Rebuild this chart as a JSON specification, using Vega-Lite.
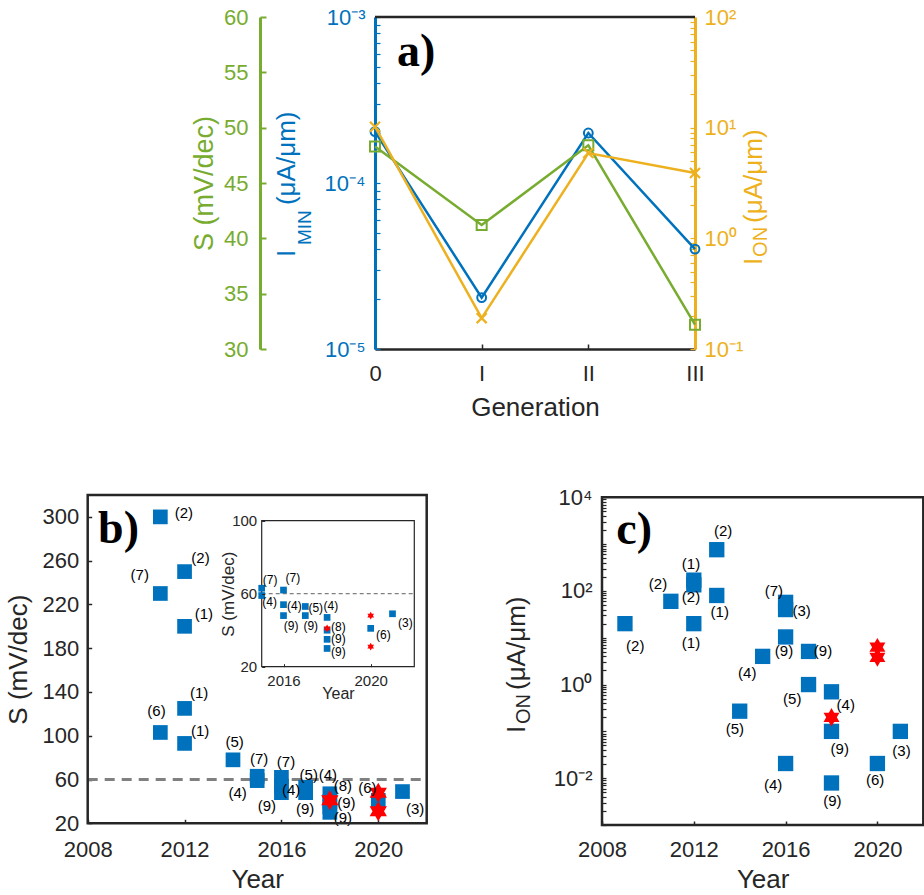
{
  "$schema": "https://vega.github.io/schema/vega-lite/v6.json",
  "width": 924,
  "height": 895,
  "autosize": {"type": "none"},
  "padding": 0,
  "background": "white",
  "config": {
    "view": {"stroke": null},
    "font": "Liberation Sans",
    "axis": {"grid": false, "labelFont": "Liberation Sans", "titleFont": "Liberation Sans", "labelOverlap": false, "labelFlush": false, "minExtent": 0, "titleFontWeight": "normal"}
  },
  "datasets": {
    "a": [
      {"gen": "0", "S": 48.3, "Imin": 0.000204, "Ion": 10.2},
      {"gen": "I", "S": 41.2, "Imin": 0.0000204, "Ion": 0.19},
      {"gen": "II", "S": 48.4, "Imin": 0.0002, "Ion": 5.9},
      {"gen": "III", "S": 32.2, "Imin": 0.00004, "Ion": 3.9}
    ],
    "bpts": [
      {"year": 2011, "S": 300}, {"year": 2011, "S": 230}, {"year": 2011, "S": 103},
      {"year": 2012, "S": 250}, {"year": 2012, "S": 200}, {"year": 2012, "S": 125}, {"year": 2012, "S": 93},
      {"year": 2014, "S": 78},
      {"year": 2015, "S": 63}, {"year": 2015, "S": 59},
      {"year": 2016, "S": 62}, {"year": 2016, "S": 54}, {"year": 2016, "S": 48},
      {"year": 2017, "S": 53}, {"year": 2017, "S": 48},
      {"year": 2018, "S": 47}, {"year": 2018, "S": 40}, {"year": 2018, "S": 35}, {"year": 2018, "S": 30},
      {"year": 2020, "S": 41},
      {"year": 2021, "S": 49}
    ],
    "bstars": [{"year": 2018, "S": 41}, {"year": 2020, "S": 48}, {"year": 2020, "S": 31}],
    "blabels": [
      {"year": 2011.97, "S": 304, "t": "(2)"},
      {"year": 2012.66, "S": 262, "t": "(2)"},
      {"year": 2010.15, "S": 247, "t": "(7)"},
      {"year": 2012.8, "S": 211, "t": "(1)"},
      {"year": 2012.6, "S": 139, "t": "(1)"},
      {"year": 2010.84, "S": 123, "t": "(6)"},
      {"year": 2012.64, "S": 104, "t": "(1)"},
      {"year": 2014.07, "S": 94, "t": "(5)"},
      {"year": 2015.08, "S": 79, "t": "(7)"},
      {"year": 2014.19, "S": 48, "t": "(4)"},
      {"year": 2016.19, "S": 76, "t": "(7)"},
      {"year": 2015.4, "S": 36, "t": "(9)"},
      {"year": 2016.4, "S": 50, "t": "(4)"},
      {"year": 2017.13, "S": 64, "t": "(5)"},
      {"year": 2016.98, "S": 33, "t": "(9)"},
      {"year": 2017.92, "S": 64, "t": "(4)"},
      {"year": 2018.54, "S": 54, "t": "(8)"},
      {"year": 2018.68, "S": 39, "t": "(9)"},
      {"year": 2018.54, "S": 25, "t": "(9)"},
      {"year": 2019.55, "S": 52, "t": "(6)"},
      {"year": 2021.52, "S": 33, "t": "(3)"}
    ],
    "ilabels": [
      {"year": 2015.39, "S": 67.5, "t": "(7)"},
      {"year": 2015.36, "S": 55.6, "t": "(4)"},
      {"year": 2016.43, "S": 68.4, "t": "(7)"},
      {"year": 2016.5, "S": 53.2, "t": "(4)"},
      {"year": 2016.35, "S": 42.3, "t": "(9)"},
      {"year": 2017.48, "S": 52, "t": "(5)"},
      {"year": 2017.25, "S": 42.3, "t": "(9)"},
      {"year": 2018.17, "S": 53.2, "t": "(4)"},
      {"year": 2018.52, "S": 41.8, "t": "(8)"},
      {"year": 2018.52, "S": 35, "t": "(9)"},
      {"year": 2018.52, "S": 28, "t": "(9)"},
      {"year": 2020.58, "S": 37.4, "t": "(6)"},
      {"year": 2021.59, "S": 44, "t": "(3)"}
    ],
    "cpts": [
      {"year": 2009, "Ion": 20}, {"year": 2011, "Ion": 60},
      {"year": 2012, "Ion": 170}, {"year": 2012, "Ion": 135}, {"year": 2012, "Ion": 20},
      {"year": 2013, "Ion": 760}, {"year": 2013, "Ion": 80},
      {"year": 2014, "Ion": 0.27}, {"year": 2015, "Ion": 4.0},
      {"year": 2016, "Ion": 57}, {"year": 2016, "Ion": 40}, {"year": 2016, "Ion": 10.4}, {"year": 2016, "Ion": 0.0206},
      {"year": 2017, "Ion": 5.1}, {"year": 2017, "Ion": 1.0},
      {"year": 2018, "Ion": 0.7}, {"year": 2018, "Ion": 0.1}, {"year": 2018, "Ion": 0.0079},
      {"year": 2020, "Ion": 0.0206}, {"year": 2021, "Ion": 0.1}
    ],
    "cstars": [{"year": 2018, "Ion": 0.2}, {"year": 2020, "Ion": 6.3}, {"year": 2020, "Ion": 3.8}],
    "clabels": [
      {"year": 2009.45, "Ion": 6.6, "t": "(2)"},
      {"year": 2010.44, "Ion": 138, "t": "(2)"},
      {"year": 2011.88, "Ion": 380, "t": "(1)"},
      {"year": 2011.88, "Ion": 74, "t": "(2)"},
      {"year": 2011.88, "Ion": 7.8, "t": "(1)"},
      {"year": 2013.28, "Ion": 1860, "t": "(2)"},
      {"year": 2013.13, "Ion": 35, "t": "(1)"},
      {"year": 2015.49, "Ion": 98, "t": "(7)"},
      {"year": 2016.7, "Ion": 37, "t": "(3)"},
      {"year": 2015.93, "Ion": 5.1, "t": "(9)"},
      {"year": 2017.63, "Ion": 5.1, "t": "(9)"},
      {"year": 2014.33, "Ion": 1.8, "t": "(4)"},
      {"year": 2016.29, "Ion": 0.48, "t": "(5)"},
      {"year": 2018.62, "Ion": 0.37, "t": "(4)"},
      {"year": 2013.79, "Ion": 0.112, "t": "(5)"},
      {"year": 2018.36, "Ion": 0.041, "t": "(9)"},
      {"year": 2021.05, "Ion": 0.039, "t": "(3)"},
      {"year": 2015.46, "Ion": 0.0072, "t": "(4)"},
      {"year": 2019.9, "Ion": 0.0093, "t": "(6)"},
      {"year": 2018.04, "Ion": 0.0032, "t": "(9)"}
    ]
  },
  "layer": [
    {
      "layer": [
        {
          "layer": [
            {
              "data": {"name": "a"},
              "mark": {"type": "line", "color": "#0072BD", "strokeWidth": 2.5},
              "encoding": {
                "x": {"field": "gen", "type": "ordinal",
                  "scale": {"type": "point", "domain": ["0", "I", "II", "III"], "range": [375, 695], "padding": 0},
                  "axis": {"orient": "bottom", "offset": -546, "title": "Generation", "labelAngle": 0, "labelFontSize": 22, "labelColor": "#262626", "labelPadding": 19, "tickSize": -5, "tickColor": "#262626", "tickWidth": 1.5, "domainColor": "#262626", "domainWidth": 2.5, "titleFontSize": 26, "titleColor": "#262626", "titlePadding": 10}},
                "y": {"field": "Imin", "type": "quantitative",
                  "scale": {"type": "log", "domain": [0.00001, 0.001], "range": [349, 17], "nice": false},
                  "axis": {"orient": "left", "offset": -375, "title": null,
                    "values": [0.00001, 0.00002, 0.00003, 0.00004, 0.00005, 0.00006, 0.00007, 0.00008, 0.00009, 0.0001, 0.0002, 0.0003, 0.0004, 0.0005, 0.0006, 0.0007, 0.0008, 0.0009, 0.001],
                    "labelExpr": "datum.value == 0.001 ? '10⁻³' : datum.value == 0.0001 ? '10⁻⁴' : datum.value == 0.00001 ? '10⁻⁵' : ''",
                    "labelFontSize": 22, "labelColor": "#0072BD", "labelPadding": 15, "tickSize": -5, "tickColor": "#0072BD", "tickWidth": 1.2, "domainColor": "#0072BD", "domainWidth": 3}}
              }
            },
            {
              "data": {"name": "a"},
              "mark": {"type": "point", "shape": "circle", "filled": false, "color": "#0072BD", "size": 78, "strokeWidth": 2, "opacity": 1},
              "encoding": {
                "x": {"field": "gen", "type": "ordinal"},
                "y": {"field": "Imin", "type": "quantitative"}
              }
            },
            {
              "data": {"values": [{}]},
              "mark": {"type": "rule", "color": "#262626", "strokeWidth": 2.5},
              "encoding": {
                "x": {"datum": "0", "type": "ordinal"},
                "x2": {"datum": "III"},
                "y": {"datum": 0.001, "type": "quantitative"}
              }
            },
            {
              "data": {"values": [{"t": "a)"}]},
              "mark": {"type": "text", "font": "Liberation Serif", "fontWeight": "bold", "fontSize": 46, "align": "left", "baseline": "alphabetic", "dx": 22, "color": "black"},
              "encoding": {
                "x": {"datum": "0", "type": "ordinal"},
                "y": {"datum": 0.000507, "type": "quantitative"},
                "text": {"field": "t"}
              }
            },
            {
              "data": {"values": [{"t": "I"}]},
              "mark": {"type": "text", "fontSize": 26, "angle": 270, "align": "left", "baseline": "alphabetic", "dx": 0, "dy": -80, "color": "#0072BD"},
              "encoding": {"x": {"datum": "0", "type": "ordinal"}, "y": {"datum": 0.0000358, "type": "quantitative"}, "text": {"field": "t"}}
            },
            {
              "data": {"values": [{"t": "MIN"}]},
              "mark": {"type": "text", "fontSize": 19, "angle": 270, "align": "left", "baseline": "alphabetic", "dx": 12, "dy": -64, "color": "#0072BD"},
              "encoding": {"x": {"datum": "0", "type": "ordinal"}, "y": {"datum": 0.0000358, "type": "quantitative"}, "text": {"field": "t"}}
            },
            {
              "data": {"values": [{"t": "(μA/μm)"}]},
              "mark": {"type": "text", "fontSize": 26, "angle": 270, "align": "left", "baseline": "alphabetic", "dx": 52, "dy": -80, "color": "#0072BD"},
              "encoding": {"x": {"datum": "0", "type": "ordinal"}, "y": {"datum": 0.0000358, "type": "quantitative"}, "text": {"field": "t"}}
            }
          ]
        },
        {
          "layer": [
            {
              "data": {"name": "a"},
              "mark": {"type": "line", "color": "#77AC30", "strokeWidth": 2.5},
              "encoding": {
                "x": {"field": "gen", "type": "ordinal"},
                "y": {"field": "S", "type": "quantitative",
                  "scale": {"domain": [30, 60], "range": [349, 17], "zero": false, "nice": false},
                  "axis": {"orient": "left", "offset": -260, "values": [30, 35, 40, 45, 50, 55, 60], "labelFontSize": 22, "labelColor": "#77AC30", "labelPadding": 18, "tickSize": -6, "tickColor": "#77AC30", "tickWidth": 2, "domainColor": "#77AC30", "domainWidth": 3, "title": "S (mV/dec)", "titleFontSize": 27, "titleColor": "#77AC30", "titlePadding": 5}}
              }
            },
            {
              "data": {"name": "a"},
              "mark": {"type": "point", "shape": "square", "filled": false, "color": "#77AC30", "size": 100, "strokeWidth": 2, "opacity": 1},
              "encoding": {
                "x": {"field": "gen", "type": "ordinal"},
                "y": {"field": "S", "type": "quantitative"}
              }
            }
          ]
        },
        {
          "layer": [
            {
              "data": {"name": "a"},
              "mark": {"type": "line", "color": "#EDB120", "strokeWidth": 2.5},
              "encoding": {
                "x": {"field": "gen", "type": "ordinal"},
                "y": {"field": "Ion", "type": "quantitative",
                  "scale": {"type": "log", "domain": [0.1, 100], "range": [349, 17], "nice": false},
                  "axis": {"orient": "right", "offset": -229, "title": null,
                    "values": [0.1, 0.2, 0.3, 0.4, 0.5, 0.6, 0.7, 0.8, 0.9, 1, 2, 3, 4, 5, 6, 7, 8, 9, 10, 20, 30, 40, 50, 60, 70, 80, 90, 100],
                    "labelExpr": "datum.value == 100 ? '10²' : datum.value == 10 ? '10¹' : datum.value == 1 ? '10⁰' : datum.value == 0.1 ? '10⁻¹' : ''",
                    "labelFontSize": 22, "labelColor": "#EDB120", "labelPadding": 14, "tickSize": -5, "tickColor": "#EDB120", "tickWidth": 1.2, "domainColor": "#EDB120", "domainWidth": 3}}
              }
            },
            {
              "data": {"name": "a"},
              "mark": {"type": "point", "shape": "M-1,-1L1,1M-1,1L1,-1", "filled": false, "color": "#EDB120", "size": 100, "strokeWidth": 2.2, "opacity": 1},
              "encoding": {
                "x": {"field": "gen", "type": "ordinal"},
                "y": {"field": "Ion", "type": "quantitative"}
              }
            },
            {
              "data": {"values": [{"t": "I"}]},
              "mark": {"type": "text", "fontSize": 26, "angle": 270, "align": "left", "baseline": "alphabetic", "dx": 0, "dy": 67, "color": "#EDB120"},
              "encoding": {"x": {"datum": "III", "type": "ordinal"}, "y": {"datum": 0.575, "type": "quantitative"}, "text": {"field": "t"}}
            },
            {
              "data": {"values": [{"t": "ON"}]},
              "mark": {"type": "text", "fontSize": 20, "angle": 270, "align": "left", "baseline": "alphabetic", "dx": 8, "dy": 72, "color": "#EDB120"},
              "encoding": {"x": {"datum": "III", "type": "ordinal"}, "y": {"datum": 0.575, "type": "quantitative"}, "text": {"field": "t"}}
            },
            {
              "data": {"values": [{"t": "(μA/μm)"}]},
              "mark": {"type": "text", "fontSize": 26, "angle": 270, "align": "left", "baseline": "alphabetic", "dx": 42, "dy": 67, "color": "#EDB120"},
              "encoding": {"x": {"datum": "III", "type": "ordinal"}, "y": {"datum": 0.575, "type": "quantitative"}, "text": {"field": "t"}}
            }
          ]
        }
      ],
      "resolve": {"scale": {"y": "independent"}, "axis": {"y": "independent"}}
    },
    {
      "layer": [
        {
          "data": {"values": [{}]},
          "mark": {"type": "rule", "color": "#808080", "strokeWidth": 3, "strokeDash": [10, 7]},
          "encoding": {
            "x": {"datum": 2008, "type": "quantitative",
              "scale": {"domain": [2008, 2022], "range": [87.7, 426.7], "zero": false, "nice": false},
              "axis": {"orient": "bottom", "offset": -71.7, "values": [2008, 2012, 2016, 2020], "format": "d", "title": "Year", "labelFontSize": 22, "labelColor": "#262626", "labelPadding": 20, "tickSize": -4, "tickColor": "#262626", "tickWidth": 1.5, "domain": false, "titleFontSize": 26, "titleColor": "#262626", "titlePadding": 6}},
            "x2": {"datum": 2022},
            "y": {"datum": 60, "type": "quantitative",
              "scale": {"domain": [20, 320], "range": [823.3, 495], "zero": false, "nice": false},
              "axis": {"orient": "left", "offset": -87.7, "values": [20, 60, 100, 140, 180, 220, 260, 300], "title": "S (mV/dec)", "labelFontSize": 22, "labelColor": "#262626", "labelPadding": 13, "tickSize": -4, "tickColor": "#262626", "tickWidth": 1.5, "domain": false, "titleFontSize": 26, "titleColor": "#262626", "titlePadding": 10}}
          }
        },
        {
          "data": {"name": "bpts"},
          "mark": {"type": "point", "shape": "square", "filled": true, "color": "#0072BD", "size": 216, "opacity": 1},
          "encoding": {"x": {"field": "year", "type": "quantitative"}, "y": {"field": "S", "type": "quantitative"}}
        },
        {
          "data": {"name": "bstars"},
          "mark": {"type": "point", "shape": "M0,-1L0.2887,-0.5L0.866,-0.5L0.5774,0L0.866,0.5L0.2887,0.5L0,1L-0.2887,0.5L-0.866,0.5L-0.5774,0L-0.866,-0.5L-0.2887,-0.5Z", "filled": true, "color": "#FF0000", "size": 400, "opacity": 1},
          "encoding": {"x": {"field": "year", "type": "quantitative"}, "y": {"field": "S", "type": "quantitative"}}
        },
        {
          "data": {"name": "blabels"},
          "mark": {"type": "text", "fontSize": 15, "color": "black", "align": "center", "baseline": "middle"},
          "encoding": {"x": {"field": "year", "type": "quantitative"}, "y": {"field": "S", "type": "quantitative"}, "text": {"field": "t"}}
        },
        {
          "data": {"values": [{}]},
          "mark": {"type": "rect", "fill": "white", "fillOpacity": 0, "stroke": "#262626", "strokeWidth": 2.5},
          "encoding": {
            "x": {"datum": 2008, "type": "quantitative"}, "x2": {"datum": 2022},
            "y": {"datum": 20, "type": "quantitative"}, "y2": {"datum": 320}
          }
        },
        {
          "data": {"values": [{"t": "b)"}]},
          "mark": {"type": "text", "font": "Liberation Serif", "fontWeight": "bold", "fontSize": 46, "align": "left", "baseline": "alphabetic", "color": "black"},
          "encoding": {"x": {"datum": 2008.43, "type": "quantitative"}, "y": {"datum": 276, "type": "quantitative"}, "text": {"field": "t"}}
        }
      ]
    },
    {
      "layer": [
        {
          "data": {"values": [{}]},
          "mark": {"type": "rect", "fill": "white", "fillOpacity": 1, "stroke": "#262626", "strokeWidth": 1.2},
          "encoding": {
            "x": {"datum": 2015, "type": "quantitative",
              "scale": {"domain": [2015, 2022], "range": [261.7, 414.3], "zero": false, "nice": false},
              "axis": {"orient": "bottom", "offset": -228.3, "values": [2016, 2020], "format": "d", "title": "Year", "zindex": 1, "labelFontSize": 15, "labelColor": "#262626", "labelPadding": 10, "tickSize": -3, "tickColor": "#262626", "domain": false, "titleFontSize": 16, "titleColor": "#262626", "titlePadding": -3}},
            "x2": {"datum": 2022},
            "y": {"datum": 20, "type": "quantitative",
              "scale": {"domain": [20, 100], "range": [666.7, 520.7], "zero": false, "nice": false},
              "axis": {"orient": "left", "offset": -261.7, "values": [20, 60, 100], "title": "S (mV/dec)", "zindex": 1, "labelFontSize": 15, "labelColor": "#262626", "labelPadding": 8, "tickSize": -3, "tickColor": "#262626", "domain": false, "titleFontSize": 17, "titleColor": "#262626", "titlePadding": -6}},
            "y2": {"datum": 100}
          }
        },
        {
          "data": {"values": [{}]},
          "mark": {"type": "rule", "color": "#808080", "strokeWidth": 1.2, "strokeDash": [4, 3]},
          "encoding": {"x": {"datum": 2015, "type": "quantitative"}, "x2": {"datum": 2022}, "y": {"datum": 60, "type": "quantitative"}}
        },
        {
          "data": {"name": "bpts"},
          "transform": [{"filter": "datum.year >= 2015"}],
          "mark": {"type": "point", "shape": "square", "filled": true, "color": "#0072BD", "size": 45, "opacity": 1},
          "encoding": {"x": {"field": "year", "type": "quantitative"}, "y": {"field": "S", "type": "quantitative"}}
        },
        {
          "data": {"name": "bstars"},
          "mark": {"type": "point", "shape": "M0,-1L0.2887,-0.5L0.866,-0.5L0.5774,0L0.866,0.5L0.2887,0.5L0,1L-0.2887,0.5L-0.866,0.5L-0.5774,0L-0.866,-0.5L-0.2887,-0.5Z", "filled": true, "color": "#FF0000", "size": 60, "opacity": 1},
          "encoding": {"x": {"field": "year", "type": "quantitative"}, "y": {"field": "S", "type": "quantitative"}}
        },
        {
          "data": {"name": "ilabels"},
          "mark": {"type": "text", "fontSize": 12, "color": "black", "align": "center", "baseline": "middle"},
          "encoding": {"x": {"field": "year", "type": "quantitative"}, "y": {"field": "S", "type": "quantitative"}, "text": {"field": "t"}}
        }
      ]
    },
    {
      "layer": [
        {
          "data": {"name": "cpts"},
          "mark": {"type": "point", "shape": "square", "filled": true, "color": "#0072BD", "size": 235, "opacity": 1},
          "encoding": {
            "x": {"field": "year", "type": "quantitative",
              "scale": {"domain": [2008, 2022], "range": [602, 923.3], "zero": false, "nice": false},
              "axis": {"orient": "bottom", "offset": -70, "values": [2008, 2012, 2016, 2020], "format": "d", "title": "Year", "labelFontSize": 22, "labelColor": "#262626", "labelPadding": 18, "tickSize": -4, "tickColor": "#262626", "tickWidth": 1.5, "domain": false, "titleFontSize": 26, "titleColor": "#262626", "titlePadding": 6}},
            "y": {"field": "Ion", "type": "quantitative",
              "scale": {"type": "log", "domain": [0.001, 10000], "range": [825, 497.3], "nice": false},
              "axis": {"orient": "left", "offset": -602, "title": null,
                "values": [0.001, 0.002, 0.003, 0.004, 0.005, 0.006, 0.007, 0.008, 0.009, 0.01, 0.02, 0.03, 0.04, 0.05, 0.06, 0.07, 0.08, 0.09, 0.1, 0.2, 0.3, 0.4, 0.5, 0.6, 0.7, 0.8, 0.9, 1, 2, 3, 4, 5, 6, 7, 8, 9, 10, 20, 30, 40, 50, 60, 70, 80, 90, 100, 200, 300, 400, 500, 600, 700, 800, 900, 1000, 2000, 3000, 4000, 5000, 6000, 7000, 8000, 9000, 10000],
                "labelExpr": "datum.value == 10000 ? '10⁴' : datum.value == 100 ? '10²' : datum.value == 1 ? '10⁰' : datum.value == 0.01 ? '10⁻²' : ''",
                "labelFontSize": 22, "labelColor": "#262626", "labelPadding": 14, "tickSize": -4, "tickColor": "#262626", "tickWidth": 1.2, "domain": false}}
          }
        },
        {
          "data": {"name": "cstars"},
          "mark": {"type": "point", "shape": "M0,-1L0.2887,-0.5L0.866,-0.5L0.5774,0L0.866,0.5L0.2887,0.5L0,1L-0.2887,0.5L-0.866,0.5L-0.5774,0L-0.866,-0.5L-0.2887,-0.5Z", "filled": true, "color": "#FF0000", "size": 340, "opacity": 1},
          "encoding": {"x": {"field": "year", "type": "quantitative"}, "y": {"field": "Ion", "type": "quantitative"}}
        },
        {
          "data": {"name": "clabels"},
          "mark": {"type": "text", "fontSize": 15, "color": "black", "align": "center", "baseline": "middle"},
          "encoding": {"x": {"field": "year", "type": "quantitative"}, "y": {"field": "Ion", "type": "quantitative"}, "text": {"field": "t"}}
        },
        {
          "data": {"values": [{}]},
          "mark": {"type": "rect", "fill": "white", "fillOpacity": 0, "stroke": "#262626", "strokeWidth": 2.5},
          "encoding": {
            "x": {"datum": 2008, "type": "quantitative"}, "x2": {"datum": 2022},
            "y": {"datum": 0.001, "type": "quantitative"}, "y2": {"datum": 10000}
          }
        },
        {
          "data": {"values": [{"t": "c)"}]},
          "mark": {"type": "text", "font": "Liberation Serif", "fontWeight": "bold", "fontSize": 46, "align": "left", "baseline": "alphabetic", "color": "black"},
          "encoding": {"x": {"datum": 2008.62, "type": "quantitative"}, "y": {"datum": 1000, "type": "quantitative"}, "text": {"field": "t"}}
        },
        {
          "data": {"values": [{"t": "I"}]},
          "mark": {"type": "text", "fontSize": 26, "angle": 270, "align": "left", "baseline": "alphabetic", "dx": 0, "dy": -77, "color": "#262626"},
          "encoding": {"x": {"datum": 2008, "type": "quantitative"}, "y": {"datum": 0.0922, "type": "quantitative"}, "text": {"field": "t"}}
        },
        {
          "data": {"values": [{"t": "ON"}]},
          "mark": {"type": "text", "fontSize": 20, "angle": 270, "align": "left", "baseline": "alphabetic", "dx": 9, "dy": -72, "color": "#262626"},
          "encoding": {"x": {"datum": 2008, "type": "quantitative"}, "y": {"datum": 0.0922, "type": "quantitative"}, "text": {"field": "t"}}
        },
        {
          "data": {"values": [{"t": "(μA/μm)"}]},
          "mark": {"type": "text", "fontSize": 26, "angle": 270, "align": "left", "baseline": "alphabetic", "dx": 43, "dy": -77, "color": "#262626"},
          "encoding": {"x": {"datum": 2008, "type": "quantitative"}, "y": {"datum": 0.0922, "type": "quantitative"}, "text": {"field": "t"}}
        }
      ]
    }
  ],
  "resolve": {"scale": {"x": "independent", "y": "independent"}, "axis": {"x": "independent", "y": "independent"}}
}
